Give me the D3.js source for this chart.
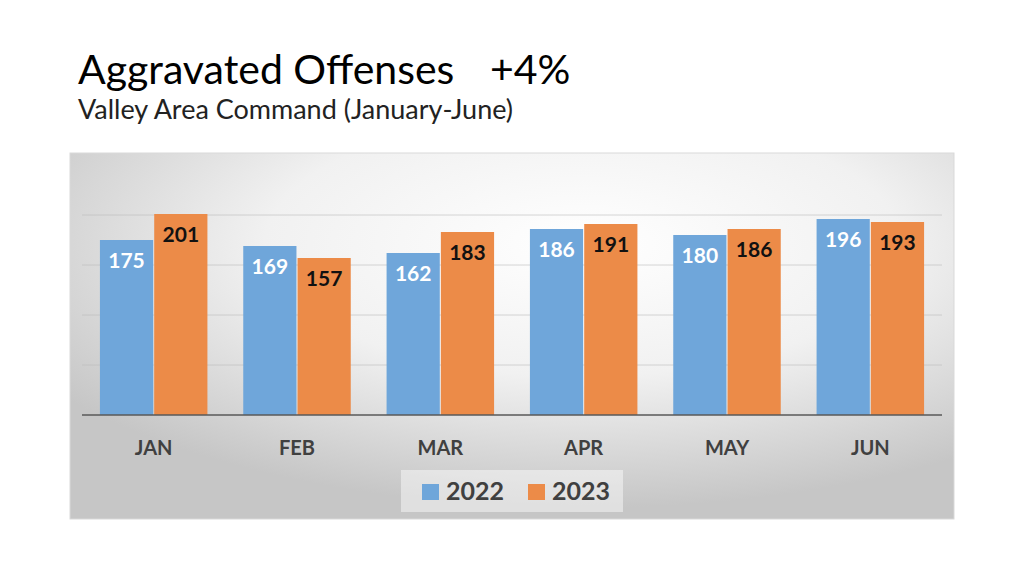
<!DOCTYPE html>
<html>
<head>
<meta charset="utf-8">
<script src="https://cdn.jsdelivr.net/npm/d3@7"></script>
<style>
  body { margin: 0; background: #fff; }
  text { font-family: Lato, "Open Sans", sans-serif; }
</style>
</head>
<body>
<svg id="chart" width="1024" height="576"></svg>
<script>
// data
const months = ['JAN', 'FEB', 'MAR', 'APR', 'MAY', 'JUN'];
const years = ['2022', '2023'];
const values2022 = [175, 169, 162, 186, 180, 196];
const values2023 = [201, 157, 183, 191, 186, 193];
const gridValues = [50, 100, 150, 200];

const colors = { '2022': '#6fa6da', '2023': '#ec8b48' };
const labelColors = { '2022': '#ffffff', '2023': '#111111' };

const svg = d3.select('#chart');

// Title
svg.append('text')
    .attr('x', 78).attr('y', 84)
    .style('font-size', '41px')
    .attr('fill', '#000')
    .text('Aggravated Offenses');
svg.append('text')
    .attr('x', 490).attr('y', 84)
    .style('font-size', '41px')
    .attr('fill', '#000')
    .text('+4%');
svg.append('text')
    .attr('x', 78).attr('y', 119)
    .style('font-size', '27px')
    .attr('fill', '#222')
    .text('Valley Area Command (January-June)');

// background of chart box
let defs = svg.append('defs');
let grad = defs.append('radialGradient')
    .attr('id', 'bg')
    .attr('cx', '58%').attr('cy', '25%').attr('r', '72%');
grad.append('stop').attr('offset', '0%').attr('stop-color', '#ffffff');
grad.append('stop').attr('offset', '50%').attr('stop-color', '#f1f1f1');
grad.append('stop').attr('offset', '100%').attr('stop-color', '#c6c6c6');

svg.append('rect')
    .attr('x', 70).attr('y', 153)
    .attr('width', 884).attr('height', 366)
    .attr('fill', 'url(#bg)')
    .style('stroke', '#d9d9d9')
    .style('stroke-width', '1px');

// scales
const y = d3.scaleLinear().domain([0, 250]).range([415, 165]);
const x0 = d3.scaleBand().domain(months).range([82, 942])
    .paddingInner(0.25).paddingOuter(0.125);
const x1 = d3.scaleBand().domain(years).range([0, x0.bandwidth()])
    .paddingInner(0.02);

// gridlines
svg.append('g')
    .selectAll('line')
    .data(gridValues)
    .enter()
    .append('line')
    .attr('x1', 82).attr('x2', 942)
    .attr('y1', d => y(d)).attr('y2', d => y(d))
    .style('stroke', '#bdbdbd')
    .style('stroke-opacity', 0.6)
    .style('stroke-width', '1px');

// bars
let rows = months.map((m, i) => ({
    month: m,
    items: [
        { year: '2022', value: values2022[i] },
        { year: '2023', value: values2023[i] }
    ]
}));

let groups = svg.append('g')
    .selectAll('g')
    .data(rows)
    .enter()
    .append('g')
    .attr('transform', d => 'translate(' + x0(d.month) + ',0)');

groups.selectAll('rect')
    .data(d => d.items)
    .enter()
    .append('rect')
    .attr('x', d => x1(d.year))
    .attr('y', d => y(d.value))
    .attr('width', x1.bandwidth())
    .attr('height', d => y(0) - y(d.value))
    .attr('fill', d => colors[d.year]);

groups.selectAll('text')
    .data(d => d.items)
    .enter()
    .append('text')
    .attr('x', d => x1(d.year) + x1.bandwidth() / 2)
    .attr('y', d => y(d.value) + 28)
    .attr('text-anchor', 'middle')
    .style('font-size', '21px')
    .style('font-weight', 'bold')
    .attr('fill', d => labelColors[d.year])
    .text(d => d.value);

// x axis
let xAxis = svg.append('g')
    .attr('transform', 'translate(0,' + y(0) + ')')
    .call(d3.axisBottom(x0).tickSize(0).tickPadding(26));
xAxis.select('.domain')
    .attr('d', 'M82,0H942')
    .style('stroke', '#595959')
    .style('stroke-width', '1.5px');
xAxis.selectAll('text')
    .style('font-size', '20px')
    .style('font-weight', 'bold')
    .style('font-family', 'Lato, sans-serif')
    .attr('fill', '#404040');

// legend
svg.append('rect')
    .attr('x', 401).attr('y', 470)
    .attr('width', 222).attr('height', 42)
    .attr('fill', '#ffffff')
    .attr('fill-opacity', 0.45);

let legendX = [422, 528];
let legend = svg.append('g')
    .selectAll('g')
    .data(years)
    .enter()
    .append('g')
    .attr('transform', (d, i) => 'translate(' + legendX[i] + ',484)');
legend.append('rect')
    .attr('width', 17).attr('height', 16)
    .attr('fill', d => colors[d]);
legend.append('text')
    .attr('x', 24).attr('y', 16)
    .style('font-size', '25px')
    .style('font-weight', 'bold')
    .attr('fill', '#404040')
    .text(d => d);
</script>
</body>
</html>
